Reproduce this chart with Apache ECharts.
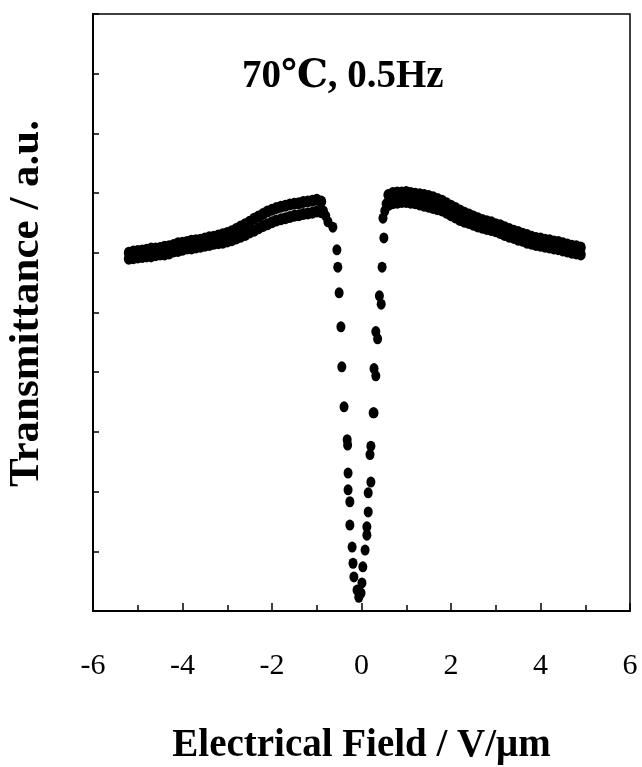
<!DOCTYPE html>
<html>
<head>
<meta charset="utf-8">
<title>Transmittance vs Electrical Field</title>
<script src="https://cdn.jsdelivr.net/npm/echarts@6/dist/echarts.min.js"></script>
<style>
  html, body { margin: 0; padding: 0; background: #fff; }
  #chart { width: 642px; height: 767px; }
</style>
</head>
<body>
<div id="chart"></div>
<script>
// x tick labels
var xTicks = [-6, -4, -2, 0, 2, 4, 6];

// broad band, negative field (V/um) – upper and lower edge of the point cloud
var leftX = [-5.2, -5.1, -5.0, -4.9, -4.8, -4.7, -4.6, -4.5, -4.4, -4.3, -4.2, -4.1, -4.0, -3.9, -3.8,
             -3.7, -3.6, -3.5, -3.4, -3.3, -3.2, -3.1, -3.0, -2.9, -2.8, -2.7, -2.6, -2.5, -2.4, -2.3,
             -2.2, -2.1, -2.0, -1.9, -1.8, -1.7, -1.6, -1.5, -1.4, -1.3, -1.2, -1.1, -1.0, -0.9];
var leftUp = [6.00, 6.02, 6.03, 6.04, 6.05, 6.07, 6.07, 6.08, 6.10, 6.11, 6.13, 6.16, 6.17, 6.18, 6.20,
              6.21, 6.22, 6.24, 6.26, 6.27, 6.29, 6.31, 6.33, 6.36, 6.40, 6.44, 6.48, 6.52, 6.57, 6.61,
              6.65, 6.69, 6.72, 6.75, 6.77, 6.79, 6.81, 6.82, 6.83, 6.85, 6.86, 6.87, 6.89, 6.86];
var leftDown = [5.90, 5.91, 5.92, 5.93, 5.94, 5.94, 5.96, 5.97, 5.97, 5.99, 6.02, 6.03, 6.05, 6.07, 6.07,
                6.09, 6.10, 6.12, 6.13, 6.15, 6.16, 6.17, 6.19, 6.21, 6.24, 6.27, 6.30, 6.34, 6.37, 6.41,
                6.45, 6.48, 6.51, 6.54, 6.56, 6.58, 6.60, 6.62, 6.63, 6.65, 6.66, 6.67, 6.69, 6.68];

// broad band, positive field
var rightX = [0.6, 0.7, 0.8, 0.9, 1.0, 1.1, 1.2, 1.3, 1.4, 1.5, 1.6, 1.7, 1.8, 1.9, 2.0,
              2.1, 2.2, 2.3, 2.4, 2.5, 2.6, 2.7, 2.8, 2.9, 3.0, 3.1, 3.2, 3.3, 3.4, 3.5,
              3.6, 3.7, 3.8, 3.9, 4.0, 4.1, 4.2, 4.3, 4.4, 4.5, 4.6, 4.7, 4.8, 4.9];
var rightUp = [6.97, 7.00, 7.01, 7.01, 7.02, 7.00, 6.99, 6.98, 6.97, 6.95, 6.93, 6.90, 6.87, 6.83, 6.79,
               6.75, 6.71, 6.67, 6.64, 6.61, 6.58, 6.55, 6.53, 6.51, 6.48, 6.46, 6.43, 6.40, 6.37, 6.35,
               6.32, 6.30, 6.27, 6.25, 6.24, 6.22, 6.21, 6.19, 6.18, 6.16, 6.14, 6.12, 6.11, 6.09];
var rightDown = [6.80, 6.83, 6.84, 6.85, 6.85, 6.84, 6.83, 6.81, 6.79, 6.77, 6.75, 6.73, 6.71, 6.67, 6.63,
                 6.59, 6.55, 6.52, 6.50, 6.47, 6.44, 6.42, 6.40, 6.38, 6.36, 6.33, 6.30, 6.27, 6.25, 6.22,
                 6.20, 6.17, 6.15, 6.13, 6.12, 6.10, 6.09, 6.07, 6.06, 6.04, 6.02, 6.00, 5.99, 5.97];

// sparse points in the dip around 0 V/um
var dipLeftX = [-0.85, -0.80, -0.75, -0.64, -0.55, -0.53, -0.50, -0.46, -0.44, -0.39, -0.32, -0.31,
                -0.30, -0.30, -0.26, -0.26, -0.21, -0.19, -0.17, -0.10, -0.06];
var dipLeftY = [6.70, 6.62, 6.52, 6.43, 6.05, 5.76, 5.33, 4.76, 4.09, 3.42, 2.87, 2.78,
                2.31, 2.03, 1.83, 1.44, 1.07, 0.80, 0.57, 0.35, 0.23];
var dipRightX = [0.55, 0.52, 0.48, 0.50, 0.46, 0.40, 0.44, 0.32, 0.36, 0.28, 0.32, 0.28, 0.26,
                 0.19, 0.21, 0.21, 0.15, 0.15, 0.12, 0.12, 0.08, 0.03, 0.01, -0.01];
var dipRightY = [6.82, 6.70, 6.58, 6.25, 5.76, 5.28, 5.14, 4.68, 4.56, 4.06, 3.94, 3.32, 3.32,
                 2.62, 2.76, 2.16, 1.98, 1.66, 1.41, 1.27, 1.02, 0.74, 0.47, 0.30];

function pairs(xs, ys) {
    return xs.map(function (x, i) { return [x, ys[i]]; });
}

var chart = echarts.init(document.getElementById('chart'));
var serif = "'Liberation Serif', 'DejaVu Serif', serif";

function dots(xs, ys, size) {
    return {
        type: 'scatter',
        data: pairs(xs, ys),
        symbol: 'circle',
        symbolSize: size,
        itemStyle: { color: '#000', opacity: 1 },
        silent: true
    };
}

chart.setOption({
    animation: false,
    backgroundColor: '#fff',
    grid: {
        left: 93, right: 12, top: 14, bottom: 156,
        outerBoundsMode: 'none',
        containLabel: false,
        show: true,
        borderColor: '#000',
        borderWidth: 1.5
    },
    xAxis: {
        type: 'value',
        min: -6, max: 6, interval: 2,
        name: 'Electrical Field / V/\u03bcm',
        nameLocation: 'middle',
        nameGap: 115,
        nameTextStyle: { fontFamily: serif, fontWeight: 'bold', fontSize: 39, color: '#000' },
        axisLine: { onZero: false, lineStyle: { color: '#000', width: 2 } },
        axisTick: { inside: true, length: 8, lineStyle: { color: '#000', width: 1.5 } },
        minorTick: { show: true, splitNumber: 2, length: 6, lineStyle: { color: '#000', width: 1.5 } },
        axisLabel: {
            margin: 40, fontFamily: serif, fontSize: 30, color: '#000',
            formatter: function (v) { return xTicks.indexOf(v) >= 0 ? String(v) : ''; }
        },
        splitLine: { show: false }
    },
    yAxis: {
        type: 'value',
        min: 0, max: 10, interval: 1,
        name: 'Transmittance / a.u.',
        nameLocation: 'middle',
        nameGap: 45,
        nameTextStyle: {
            fontFamily: serif, fontWeight: 'bold', fontSize: 43, color: '#000',
            padding: [0, 0, 0, 18]
        },
        axisLine: { onZero: false, lineStyle: { color: '#000', width: 2 } },
        axisTick: { inside: true, length: 6, lineStyle: { color: '#000', width: 1.5 } },
        axisLabel: { show: false },
        splitLine: { show: false }
    },
    graphic: [{
        type: 'text',
        left: 242,
        top: 57,
        style: {
            text: '70\u2103, 0.5Hz',
            font: "bold 39px 'Liberation Serif', 'DejaVu Serif', serif",
            fill: '#000'
        }
    }],
    series: [
        dots(leftX, leftUp, [10, 12]),
        dots(leftX, leftDown, [10, 12]),
        dots(rightX, rightUp, [10, 12]),
        dots(rightX, rightDown, [10, 12]),
        dots(dipLeftX, dipLeftY, [9, 11]),
        dots(dipRightX, dipRightY, [9, 11])
    ]
});
</script>
</body>
</html>
